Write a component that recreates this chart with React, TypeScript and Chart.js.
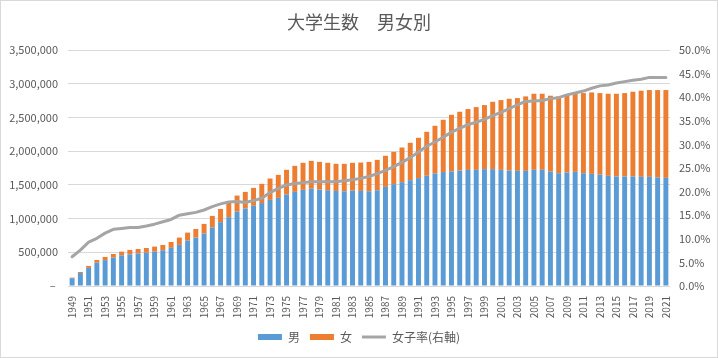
import React, { useEffect, useRef } from "react";
import { Chart, registerables } from "chart.js";

Chart.register(...registerables);

const years: string[] = [];
for (let y = 1949; y <= 2021; y++) years.push(String(y));

const male: number[] = [
  116000, 192000, 269000, 346000, 384000, 420000, 454000, 469000, 483000, 494000,
  508000, 530000, 566000, 610000, 676000, 718000, 777000, 868000, 947000, 1021000,
  1102000, 1148000, 1190000, 1230000, 1277000, 1307000, 1355000, 1396000, 1426000, 1443000,
  1430000, 1420000, 1410000, 1405000, 1414000, 1410000, 1405000, 1420000, 1470000, 1510000,
  1540000, 1570000, 1600000, 1635000, 1670000, 1690000, 1700000, 1712000, 1722000, 1723000,
  1733000, 1733000, 1723000, 1712000, 1708000, 1708000, 1723000, 1723000, 1698000, 1673000,
  1683000, 1693000, 1673000, 1663000, 1653000, 1634000, 1624000, 1624000, 1624000, 1619000,
  1619000, 1609000, 1604000,
];

const female: number[] = [
  8000, 16000, 28000, 40000, 47000, 55000, 56000, 66000, 66000, 70000,
  76000, 79000, 87000, 108000, 116000, 128000, 144000, 172000, 196000, 222000,
  239000, 248000, 265000, 285000, 317000, 341000, 368000, 386000, 401000, 413000,
  411000, 407000, 402000, 407000, 413000, 421000, 436000, 451000, 461000, 480000,
  514000, 554000, 598000, 652000, 706000, 775000, 839000, 872000, 902000, 930000,
  950000, 999000, 1034000, 1065000, 1079000, 1104000, 1128000, 1128000, 1124000, 1139000,
  1154000, 1158000, 1188000, 1208000, 1208000, 1217000, 1227000, 1237000, 1257000, 1277000,
  1287000, 1297000, 1302000,
];

const femaleRate: number[] = [
  6.2, 7.6, 9.3, 10.1, 11.2, 12.0, 12.2, 12.4, 12.4, 12.7,
  13.1, 13.6, 14.1, 15.0, 15.3, 15.6, 16.1, 16.8, 17.4, 17.8,
  17.9, 17.7, 18.1, 18.6, 19.8, 20.7, 21.4, 21.7, 21.9, 22.1,
  22.1, 22.1, 22.1, 22.3, 22.5, 22.8, 23.2, 23.8, 24.5, 25.3,
  26.2, 27.2, 28.4, 29.6, 30.5, 31.5, 32.6, 33.4, 34.2, 34.7,
  35.3, 36.1, 36.8, 37.6, 38.4, 39.1, 39.2, 39.3, 39.7, 39.9,
  40.5, 40.9, 41.3, 41.9, 42.4, 42.6, 43.0, 43.3, 43.6, 43.8,
  44.2, 44.2, 44.2,
];

const TITLE = "大学生数　男女別";
const LABEL_MALE = "男";
const LABEL_FEMALE = "女";
const LABEL_RATE = "女子率(右軸)";

const FONT = "'Noto Sans CJK JP', 'Noto Sans', sans-serif";
const TEXT = "#595959";

export default function App() {
  const ref = useRef<HTMLCanvasElement | null>(null);

  useEffect(() => {
    if (!ref.current) return;
    const chart = new Chart(ref.current, {
      type: "bar",
      data: {
        labels: years,
        datasets: [
          {
            type: "bar",
            label: LABEL_MALE,
            data: male,
            backgroundColor: "#5B9BD5",
            borderWidth: 0,
            stack: "s",
            yAxisID: "y",
            order: 1,
            pointStyle: "rect",
            categoryPercentage: 1,
            barPercentage: 0.6,
          } as any,
          {
            type: "bar",
            label: LABEL_FEMALE,
            data: female,
            backgroundColor: "#ED7D31",
            borderWidth: 0,
            stack: "s",
            yAxisID: "y",
            order: 1,
            pointStyle: "rect",
            categoryPercentage: 1,
            barPercentage: 0.6,
          } as any,
          {
            type: "line",
            label: LABEL_RATE,
            data: femaleRate,
            borderColor: "#A5A5A5",
            backgroundColor: "#A5A5A5",
            borderWidth: 3,
            pointRadius: 0,
            pointStyle: "line",
            tension: 0,
            borderJoinStyle: "round",
            borderCapStyle: "round",
            yAxisID: "y1",
            order: 0,
          } as any,
        ],
      },
      options: {
        responsive: false,
        animation: false,
        layout: { padding: { left: 0, right: 0, top: 0, bottom: 5 } },
        plugins: {
          title: {
            display: true,
            text: TITLE,
            color: TEXT,
            font: { family: FONT, size: 18, weight: "normal" as any },
            padding: { top: 11, bottom: 17.4 },
          },
          legend: {
            position: "bottom",
            labels: {
              usePointStyle: true,
              pointStyleWidth: 24,
              boxHeight: 6,
              boxWidth: 24,
              padding: 10,
              color: TEXT,
              font: { family: FONT, size: 12 },
              sort: (a: any, b: any) => a.datasetIndex - b.datasetIndex,
            },
          },
          tooltip: { enabled: false },
        },
        scales: {
          x: {
            stacked: true,
            grid: { display: false, drawTicks: false },
            border: { display: false },
            ticks: {
              autoSkip: false,
              minRotation: 90,
              maxRotation: 90,
              padding: 10,
              color: TEXT,
              font: { family: FONT, size: 10 },
              callback: (_v: any, i: number) => (i % 2 === 0 ? years[i] : ""),
            },
            afterFit: (s: any) => {
              s.height = 35;
            },
          },
          y: {
            stacked: true,
            position: "left",
            min: 0,
            max: 3500000,
            grid: { color: "#D9D9D9", lineWidth: 1, drawTicks: false },
            border: { display: false },
            ticks: {
              stepSize: 500000,
              padding: 10,
              color: TEXT,
              font: { family: FONT, size: 11 },
              callback: (v: any) => (Number(v) === 0 ? "– " : Number(v).toLocaleString("en-US")),
            },
            afterFit: (s: any) => {
              s.width = 68;
            },
          },
          y1: {
            position: "right",
            min: 0,
            max: 50,
            grid: { display: false, drawTicks: false },
            border: { display: false },
            ticks: {
              stepSize: 5,
              padding: 9,
              color: TEXT,
              font: { family: FONT, size: 11 },
              callback: (v: any) => Number(v).toFixed(1) + "%",
            },
            afterFit: (s: any) => {
              s.width = 48;
            },
          },
        },
      } as any,
    });
    return () => chart.destroy();
  }, []);

  return (
    <div style={{ position: "fixed", left: 0, top: 0, width: 718, height: 358, background: "#fff" }}>
      <canvas ref={ref} width={718} height={358} style={{ display: "block" }} />
      <div
        style={{
          position: "absolute",
          left: 0,
          top: 0,
          width: 718,
          height: 358,
          boxSizing: "border-box",
          border: "1px solid #D9D9D9",
          pointerEvents: "none",
        }}
      />
    </div>
  );
}
